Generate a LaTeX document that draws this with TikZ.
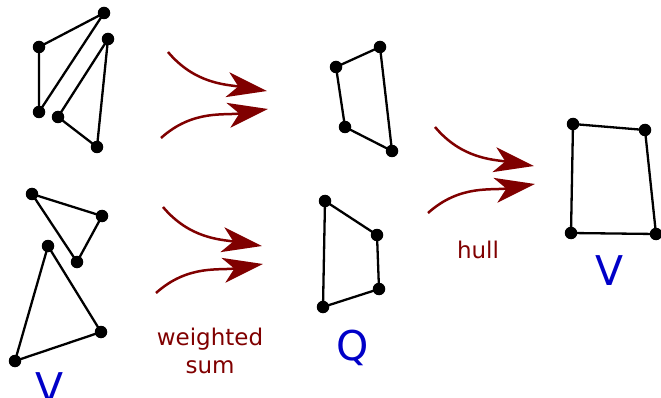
\documentclass[tikz,border=0pt]{standalone}
\usepackage{fontspec}
\setmainfont{DejaVu Sans}
\usetikzlibrary{arrows.meta}
\definecolor{arrred}{RGB}{128,0,0}
\definecolor{lblblue}{RGB}{0,0,200}
\tikzset{
  pt/.style={circle,fill=black,inner sep=0pt,minimum size=12.5pt},
  edge/.style={line width=2.3pt,black,line join=round},
  bigarrow/.style={line width=2.5pt,arrred,-{Stealth[length=40pt,width=25pt,inset=11pt]}},
  redtext/.style={text=arrred,font=\fontsize{23}{27}\selectfont,anchor=base,inner sep=0pt},
  setlabel/.style={text=lblblue,font=\fontsize{41}{41}\selectfont,anchor=base,inner sep=0pt}
}
\begin{document}
\begin{tikzpicture}[x=1pt,y=-1pt]
\useasboundingbox (0,0) rectangle (661,398);
% top-left pair of triangles
\coordinate (a1) at (104,13); \coordinate (a2) at (39,47); \coordinate (a3) at (39,112);
\coordinate (b1) at (108,39); \coordinate (b2) at (58,117); \coordinate (b3) at (97,147);
\draw[edge] (a1) -- (a2) -- (a3) -- cycle;
\draw[edge] (b1) -- (b2) -- (b3) -- cycle;
% bottom-left pair of triangles
\coordinate (c1) at (32,194); \coordinate (c2) at (102,216); \coordinate (c3) at (77,262);
\coordinate (d1) at (48,246); \coordinate (d2) at (101,332); \coordinate (d3) at (15,361);
\draw[edge] (c1) -- (c2) -- (c3) -- cycle;
\draw[edge] (d1) -- (d2) -- (d3) -- cycle;
% middle top quadrilateral
\coordinate (e1) at (380,47); \coordinate (e2) at (336,67); \coordinate (e3) at (345,127); \coordinate (e4) at (392,151);
\draw[edge] (e1) -- (e2) -- (e3) -- (e4) -- cycle;
% middle bottom quadrilateral
\coordinate (f1) at (325,201); \coordinate (f2) at (377,235); \coordinate (f3) at (379,289); \coordinate (f4) at (323,307);
\draw[edge] (f1) -- (f2) -- (f3) -- (f4) -- cycle;
% right quadrilateral
\coordinate (g1) at (573,124); \coordinate (g2) at (645,130); \coordinate (g3) at (656,234); \coordinate (g4) at (571,233);
\draw[edge] (g1) -- (g2) -- (g3) -- (g4) -- cycle;
% dots
\foreach \p in {a1,a2,a3,b1,b2,b3,c1,c2,c3,d1,d2,d3,e1,e2,e3,e4,f1,f2,f3,f4,g1,g2,g3,g4}
  \node[pt] (n\p) at (\p) {};
% arrows
\foreach \n/\x/\y in {p/168/52, q/163/207, r/435/127}{
  \coordinate (\n us) at (\x,\y);
  \coordinate (\n ue) at (\x+99,\y+39);
  \coordinate (\n ls) at (\x-7,\y+86);
  \coordinate (\n le) at (\x+100,\y+57);
  \draw[bigarrow] (\n us) to[out=-50,in=171] (\n ue);
  \draw[bigarrow] (\n ls) to[out=42,in=-171] (\n le);
}
% labels
\node[redtext] (wt) at (210,345) {weighted};
\node[redtext] (sm) at (210,373) {sum};
\node[redtext] (hl) at (478,258) {hull};
\node[setlabel] (vl) at (50,402) {V};
\node[setlabel] (ql) at (353,360) {Q};
\node[setlabel] (vr) at (610,285) {V};
\end{tikzpicture}
\end{document}
